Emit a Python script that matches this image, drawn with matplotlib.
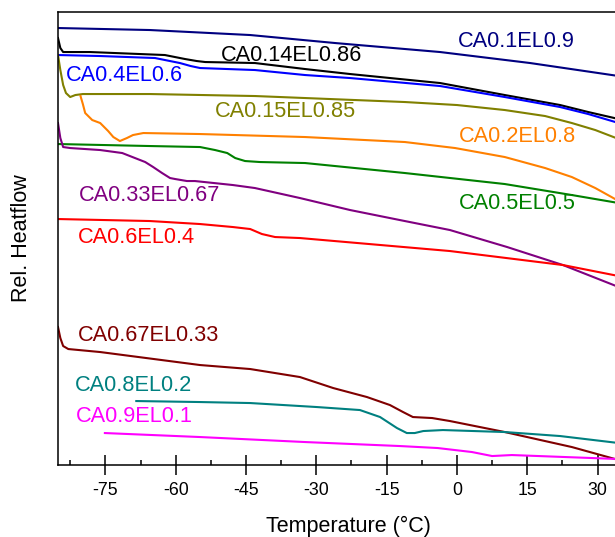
#!/usr/bin/env python3
import matplotlib
matplotlib.use('Agg')
import matplotlib.pyplot as plt
from matplotlib.ticker import MultipleLocator

plt.rcParams['font.family'] = ['Liberation Sans', 'DejaVu Sans']
plt.rcParams['axes.unicode_minus'] = False

# DSC curves, temperature (C) vs relative heat flow (a.u.)
t_01 = [-85.1, -65.5, -44.1, -26.0, -3.6, 15.6, 34.5]
h_01 = [437, 435, 430, 422, 413, 402, 389]

t_014 = [-85.1, -84.6, -84.0, -78.3, -62.3, -58.0, -55.5, -53.7, -43.1, -32.4, -22.8, -3.6, 10.2,
         22.0, 28.0, 34.5]
h_014 = [427, 417, 413, 413, 410, 406, 404, 403, 402, 396, 391, 382, 370, 360, 353, 346]

t_04 = [-85.1, -76.1, -64.4, -59.1, -56.8, -54.8, -43.1, -32.4, -22.8, -3.6, 10.2, 22.0, 28.0, 34.5]
h_04 = [410, 409, 407, 402, 399, 397, 395, 390, 387, 379, 368, 358, 351, 342]

t_015 = [-85.1, -84.6, -84.0, -83.4, -82.5, -81.4, -79.8, -65.5, -43.1, -32.4, -11.1, 0.0, 10.2,
         18.8, 24.5, 29.5, 34.5]
h_015 = [410, 395, 380, 372, 368, 370, 371, 371, 369, 367, 363, 360, 355, 349, 342, 335, 326]

t_02 = [-80.3, -79.8, -79.3, -77.8, -76.1, -74.4, -73.3, -71.9, -70.4, -69.1, -66.9, -54.8, -32.4, -11.1,
        -0.4, 10.2, 18.8, 24.5, 29.5, 34.5]
h_02 = [369, 361, 352, 345, 342, 334, 328, 324, 327, 330, 332, 331, 328, 323, 317, 308, 297, 288,
        277, 264]

t_05 = [-85.1, -65.5, -54.8, -51.6, -49.0, -47.3, -45.2, -42.0, -32.4, -11.1, 10.2, 24.5, 34.5]
h_05 = [321, 319, 318, 315, 312, 307, 304, 303, 302, 292, 281, 270, 262]

t_033 = [-85.1, -84.6, -84.0, -82.5, -76.1, -71.4, -66.5, -64.8, -62.9, -61.2, -60.1, -57.6, -55.9,
         -47.8, -43.1, -33.5, -22.8, -12.2, -1.5, 10.7, 22.6, 34.5]
h_033 = [342, 327, 318, 317, 315, 312, 303, 298, 292, 287, 286, 284, 284, 280, 277, 267, 255, 245,
         235, 218, 200, 178]

t_06 = [-85.1, -65.5, -54.8, -47.8, -44.1, -41.6, -38.8, -33.5, -1.5, 22.6, 34.5]
h_06 = [246, 244, 241, 238, 236, 231, 228, 227, 214, 200, 189]

t_067 = [-85.1, -84.6, -84.0, -82.9, -76.1, -54.8, -44.1, -33.5, -26.4, -19.2, -14.3, -11.5, -9.4,
         -5.3, -1.5, 10.2, 24.5, 34.5]
h_067 = [138, 127, 119, 116, 113, 100, 96, 88, 77, 68, 60, 53, 48, 47, 44, 33, 18, 5]

t_08 = [-68.4, -54.8, -44.1, -29.9, -20.7, -16.4, -12.8, -10.7, -9.0, -7.2, -3.0, 10.2, 22.0, 34.5]
h_08 = [64, 63, 62, 58, 55, 48, 37, 32, 32, 34, 35, 33, 29, 22]

t_09 = [-75.1, -54.8, -32.4, -12.2, -4.1, 3.2, 7.5, 11.7, 34.5]
h_09 = [32, 28, 23, 19, 17, 13, 9, 10, 6]

names = ['CA0.1EL0.9', 'CA0.14EL0.86', 'CA0.4EL0.6', 'CA0.15EL0.85', 'CA0.2EL0.8', 'CA0.5EL0.5',
         'CA0.33EL0.67', 'CA0.6EL0.4', 'CA0.67EL0.33', 'CA0.8EL0.2', 'CA0.9EL0.1']
temps = [t_01, t_014, t_04, t_015, t_02, t_05, t_033, t_06, t_067, t_08, t_09]
flows = [h_01, h_014, h_04, h_015, h_02, h_05, h_033, h_06, h_067, h_08, h_09]
colors = ['#000080', '#000000', '#0000FF', '#808000', '#FF8000', '#008000',
          '#800080', '#FF0000', '#800000', '#008080', '#FF00FF']
# where each label sits (left edge, middle)
label_pos = [(0.2, 424), (-50.3, 410), (-83.4, 390), (-51.6, 354), (0.4, 329), (0.4, 262),
             (-80.6, 270), (-80.8, 228), (-80.8, 130), (-81.4, 80), (-81.2, 49)]

fig = plt.figure(figsize=(6.15, 5.37), dpi=100)
ax = fig.add_axes([0.0943, 0.134, 0.943, 0.8436])

for t, h, c in zip(temps, flows, colors):
    ax.plot(t, h, color=c, lw=1.5)

for name, (x, y), c in zip(names, label_pos, colors):
    ax.text(x, y, name, color=c, fontsize=15.7, ha='left', va='center')

ax.set_xlim(-85.1, 38.6)
ax.set_ylim(0, 453)
ax.xaxis.set_major_locator(MultipleLocator(15))
ax.xaxis.set_minor_locator(MultipleLocator(7.5))
ax.tick_params(axis='x', which='major', direction='inout', length=14, width=1.1, labelsize=12.8, pad=5)
ax.tick_params(axis='x', which='minor', direction='in', length=3.5, width=1.1)
ax.set_yticks([])
ax.spines['right'].set_visible(False)
for s in ['left', 'top', 'bottom']:
    ax.spines[s].set_linewidth(1.1)

ax.set_xlabel('Temperature (°C)', fontsize=15.5, labelpad=12)
ax.set_ylabel('Rel. Heatflow', fontsize=15.5, labelpad=19)

fig.savefig('out.png', dpi=100)
